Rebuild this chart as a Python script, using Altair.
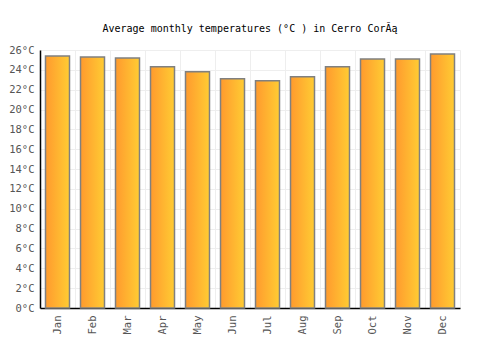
import altair as alt
import pandas as pd

months = ["Jan", "Feb", "Mar", "Apr", "May", "Jun", "Jul", "Aug", "Sep", "Oct", "Nov", "Dec"]
temps = [25.4, 25.3, 25.2, 24.3, 23.8, 23.1, 22.9, 23.3, 24.3, 25.1, 25.1, 25.6]

df = pd.DataFrame({"month": months, "temp": temps})

FONT = "DejaVu Sans Mono"

grad = alt.Gradient(
    gradient="linear",
    stops=[alt.GradientStop(color="#ff9a2e", offset=0), alt.GradientStop(color="#ffcc33", offset=1)],
    x1=0, x2=1, y1=0, y2=0,
)

chart = alt.Chart(df).mark_bar(width=24, color=grad, stroke="#808080", strokeWidth=1.5).encode(
    x=alt.X("month:N", sort=months, title=None,
            scale=alt.Scale(paddingInner=0, paddingOuter=0),
            axis=alt.Axis(labelAngle=270, ticks=False, labelPadding=7, bandPosition=0,
                          grid=True, gridColor="#eeeeee", domainColor="#000000", domainWidth=1.5,
                          labelColor="#555555", labelFont=FONT, labelFontSize=10.5)),
    y=alt.Y("temp:Q", title=None,
            scale=alt.Scale(domain=[0, 26], nice=False),
            axis=alt.Axis(values=list(range(0, 27, 2)), labelExpr="datum.value + '°C'",
                          ticks=False, labelPadding=6, grid=True, gridColor="#eeeeee",
                          domainColor="#000000", domainWidth=1.5,
                          labelColor="#555555", labelFont=FONT, labelFontSize=10.5)),
).properties(
    width=420, height=258,
    title=alt.TitleParams("Average monthly temperatures (°C ) in Cerro CorĂą", font=FONT,
                          fontSize=10, fontWeight="normal", color="#000000", offset=11),
    autosize="none",
    padding={"left": 40, "top": 50, "right": 40, "bottom": 42},
).configure_view(stroke="#eeeeee")

chart.save("out.html", embed_options={"renderer": "svg", "actions": False})
